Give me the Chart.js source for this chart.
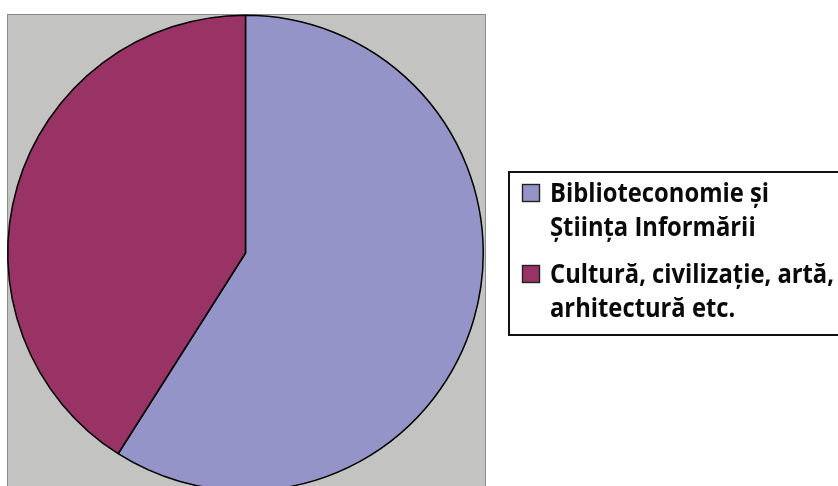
<!DOCTYPE html>
<html>
<head>
<meta charset="utf-8">
<script src="https://cdn.jsdelivr.net/npm/chart.js@4"></script>
<style>
body{margin:0;background:#fff;}
#wrap{width:838px;height:486px;overflow:hidden;position:relative;}
</style>
</head>
<body>
<div id="wrap"><canvas id="pie" width="838" height="500"></canvas></div>
<script>
// categories (each split into the lines shown in the legend)
var labels=[["Biblioteconomie și","Știința Informării"],["Cultură, civilizație, artă,","arhitectură etc."]];
// share of each category, percent
var values=[59,41];
var colors=["#9494c8","#993366"];

// grey plot area behind the pie
var plotBg={
  id:"plotBg",
  beforeDraw:function(chart){
    var c=chart.ctx;
    c.save();
    c.fillStyle="#fff";
    c.fillRect(0,0,chart.width,chart.height);
    c.fillStyle="#c3c3c1";
    c.fillRect(8,14,478,490);
    c.strokeStyle="#8a8a8a";
    c.lineWidth=1;
    c.strokeRect(7.5,14.5,478,490);
    c.restore();
  }
};

// boxed legend on the right, lines drawn from the labels array
var boxLegend={
  id:"boxLegend",
  afterDraw:function(chart){
    var c=chart.ctx;
    var labs=chart.data.labels;
    var cols=chart.data.datasets[0].backgroundColor;
    c.save();
    c.fillStyle="#fff";
    c.fillRect(508,171,340,164);
    c.strokeStyle="#111";
    c.lineWidth=2;
    c.strokeRect(509,172,340,163);
    c.font="bold 27px 'Open Sans'";
    var sx=284/c.measureText(labs[1][0]).width;
    c.textBaseline="alphabetic";
    for(var i=0;i<labs.length;i++){
      var base=202+i*81;
      c.fillStyle=cols[i];
      c.fillRect(522,base-18,18,18);
      c.strokeStyle="#222";
      c.lineWidth=1.4;
      c.strokeRect(522.5,base-17.5,17,17);
      c.fillStyle="#0a0a0a";
      for(var j=0;j<labs[i].length;j++){
        c.save();
        c.translate(550,base+j*34);
        c.scale(sx,1);
        c.fillText(labs[i][j],0,0);
        c.restore();
      }
    }
    c.restore();
  }
};

new Chart("pie",{
  type:"pie",
  data:{
    labels:labels,
    datasets:[{
      data:values,
      backgroundColor:colors,
      borderColor:"#000",
      borderWidth:1.5
    }]
  },
  options:{
    responsive:false,
    animation:false,
    layout:{padding:{left:7,top:14,right:354,bottom:8}},
    plugins:{legend:{display:false},tooltip:{enabled:false}}
  },
  plugins:[plotBg,boxLegend]
});
</script>
</body>
</html>
